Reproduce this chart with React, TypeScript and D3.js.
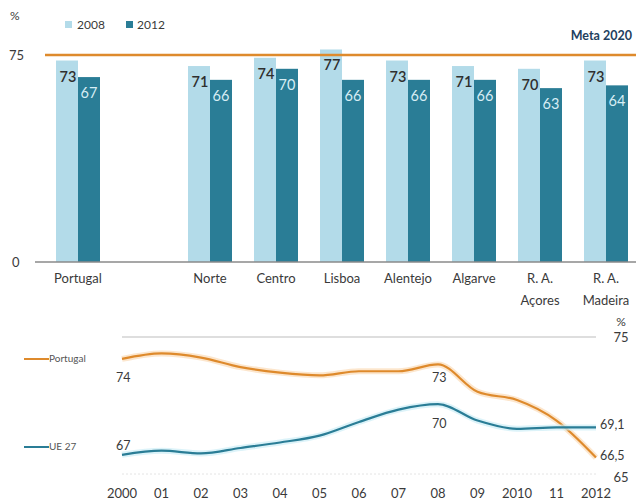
import React from 'react';
import * as d3 from 'd3';

const regions = ['Portugal', '', 'Norte', 'Centro', 'Lisboa', 'Alentejo', 'Algarve', 'R. A.|Açores', 'R. A.|Madeira'];
const rate2008 = [73, null, 71, 74, 77, 73, 71, 70, 73];
const rate2012 = [67, null, 66, 70, 66, 66, 66, 63, 64];
const meta2020 = 75;

const years = ['2000', '01', '02', '03', '04', '05', '06', '07', '08', '09', '2010', '11', '2012'];
const portugalSeries = [73.4, 73.8, 73.5, 72.8, 72.4, 72.2, 72.5, 72.5, 73.0, 71.0, 70.4, 68.9, 66.2];
const ueSeries = [66.4, 66.7, 66.5, 66.9, 67.3, 67.8, 68.8, 69.7, 70.1, 68.9, 68.3, 68.4, 68.4];

const LIGHT = '#b3dbe9';
const DARK = '#2a7d96';
const ORANGE = '#de8a2c';
const TEXT = '#3a3a3a';
const FONT = 'Lato, "Open Sans", sans-serif';

export default function App() {
  // bar chart scales
  const x = d3.scalePoint<string>().domain(regions).range([78, 606]);
  const y = d3.scaleLinear().domain([0, 75]).range([262, 55]);
  const bw = 22;

  // line chart scales
  const lx = d3.scalePoint<string>().domain(years).range([122, 596]);
  const ly = d3.scaleLinear().domain([65, 75]).range([474, 337]);
  const line = d3.line<number>()
    .x((_, i) => lx(years[i])!)
    .y(d => ly(d))
    .curve(d3.curveMonotoneX);

  return (
    <svg width={636} height={502} style={{ position: 'absolute', left: 0, top: 0, background: '#fff' }} fontFamily={FONT}>
      {/* axis labels */}
      <text x={10} y={20} fontSize={12} fill={TEXT}>%</text>
      <text x={9} y={60} fontSize={13} fill={TEXT}>{y.domain()[1]}</text>
      <text x={12} y={267} fontSize={13} fill={TEXT}>0</text>

      {/* legend */}
      <rect x={65} y={21} width={7} height={7} fill={LIGHT} />
      <text x={77} y={29} fontSize={12} fill={TEXT}>2008</text>
      <rect x={126} y={21} width={7} height={7} fill={DARK} />
      <text x={137} y={29} fontSize={12} fill={TEXT}>2012</text>

      {/* bars */}
      {regions.map((r, i) => {
        const cx = x(r)!;
        const a = rate2008[i];
        const b = rate2012[i];
        if (a == null || b == null) return null;
        return (
          <g key={r}>
            <rect x={cx - bw} y={y(a)} width={bw} height={y(0) - y(a)} fill={LIGHT} />
            <rect x={cx} y={y(b)} width={bw} height={y(0) - y(b)} fill={DARK} />
            <text x={cx - bw / 2 + 1} y={y(a) + 21} fontSize={14.5} fontWeight={600} textAnchor="middle" fill="#2f2f2f">{a}</text>
            <text x={cx + bw / 2} y={y(b) + 21} fontSize={14.5} textAnchor="middle" fill="#d8eef5">{b}</text>
          </g>
        );
      })}

      {/* meta line */}
      <line x1={45} x2={636} y1={y(meta2020)} y2={y(meta2020)} stroke={ORANGE} strokeWidth={2.5} />
      <text x={632} y={40} fontSize={12.5} fontWeight={700} textAnchor="end" fill="#23405e">Meta 2020</text>

      {/* baseline */}
      <line x1={35} x2={636} y1={y(0)} y2={y(0)} stroke="#8a8a8a" strokeWidth={1.5} />
      {regions.map(r => r && r.split('|').map((t, j) => (
        <text key={r + j} x={x(r)!} y={283 + j * 22} fontSize={13} textAnchor="middle" fill={TEXT}>{t}</text>
      )))}

      {/* line chart */}
      <line x1={122} x2={596} y1={ly(75)} y2={ly(75)} stroke="#bdbdbd" strokeWidth={1} />
      <line x1={122} x2={596} y1={ly(65)} y2={ly(65)} stroke="#e4e4e4" strokeWidth={1} strokeDasharray="2,2" />
      <text x={621} y={326} fontSize={12} textAnchor="middle" fill={TEXT}>%</text>
      <text x={621} y={342} fontSize={13} textAnchor="middle" fill={TEXT}>75</text>
      <text x={621} y={482} fontSize={13} textAnchor="middle" fill={TEXT}>65</text>

      <path d={line(portugalSeries)!} fill="none" stroke="#fbdcb8" strokeWidth={6} strokeOpacity={0.7} />
      <path d={line(portugalSeries)!} fill="none" stroke={ORANGE} strokeWidth={2.2} />
      <path d={line(ueSeries)!} fill="none" stroke="#cdeef7" strokeWidth={6} strokeOpacity={0.7} />
      <path d={line(ueSeries)!} fill="none" stroke={DARK} strokeWidth={2.2} />

      <text x={116} y={382} fontSize={12.5} fill={TEXT}>74</text>
      <text x={116} y={450} fontSize={12.5} fill={TEXT}>67</text>
      <text x={432} y={382} fontSize={12.5} fill={TEXT}>73</text>
      <text x={432} y={428} fontSize={12.5} fill={TEXT}>70</text>
      <text x={600} y={429} fontSize={12.5} fill={TEXT}>69,1</text>
      <text x={600} y={460} fontSize={12.5} fill={TEXT}>66,5</text>

      {/* line legend */}
      <line x1={24} x2={49} y1={359} y2={359} stroke={ORANGE} strokeWidth={2} />
      <text x={49} y={362} fontSize={10} fill="#555">Portugal</text>
      <line x1={24} x2={49} y1={447} y2={447} stroke={DARK} strokeWidth={2} />
      <text x={49} y={450} fontSize={10} fill="#555">UE 27</text>

      {years.map(t => (
        <text key={t} x={lx(t)!} y={498} fontSize={13} textAnchor="middle" fill={TEXT}>{t}</text>
      ))}
    </svg>
  );
}
